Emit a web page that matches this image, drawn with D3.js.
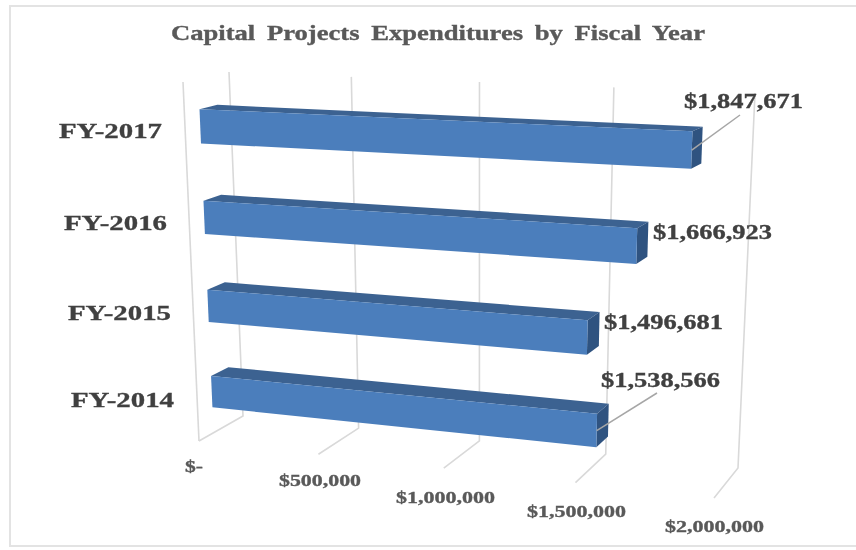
<!DOCTYPE html>
<html lang="en">
<head>
  <meta charset="UTF-8">
  <title>Capital Projects Expenditures by Fiscal Year</title>
  <style>
    html, body { margin: 0; padding: 0; background: #fff; }
    svg { display: block; filter: blur(0.45px); }
    text { font-family: "Liberation Serif", serif; font-weight: bold; stroke: currentColor; stroke-width: 0.35px; }
  </style>
</head>
<body>
<script src="https://d3js.org/d3.v7.min.js"></script>
<script>
  const title = "Capital Projects Expenditures by Fiscal Year";
  const categories = ["FY-2017", "FY-2016", "FY-2015", "FY-2014"];
  const values = [1847671, 1666923, 1496681, 1538566];
  const tickValues = [0, 500000, 1000000, 1500000, 2000000];
  const tickLabels = ["$-", "$500,000", "$1,000,000", "$1,500,000", "$2,000,000"];

  const width = 856, height = 550;

  const svg = d3.select("body").append("svg")
          .attr("width", width)
          .attr("height", height);

  // homography from the unit square onto a quad [bl, br, tr, tl]
  function quadMap(q) {
    const [p0, p1, p2, p3] = q;
    const dx1 = p1[0] - p2[0], dx2 = p3[0] - p2[0], sx = p0[0] - p1[0] + p2[0] - p3[0];
    const dy1 = p1[1] - p2[1], dy2 = p3[1] - p2[1], sy = p0[1] - p1[1] + p2[1] - p3[1];
    const den = dx1 * dy2 - dx2 * dy1;
    const g = (sx * dy2 - dx2 * sy) / den;
    const h = (dx1 * sy - sx * dy1) / den;
    const a = p1[0] - p0[0] + g * p1[0], b = p3[0] - p0[0] + h * p3[0], c = p0[0];
    const d = p1[1] - p0[1] + g * p1[1], e = p3[1] - p0[1] + h * p3[1], f = p0[1];
    return (u, v) => {
      const w = g * u + h * v + 1;
      return [(a * u + b * v + c) / w, (d * u + e * v + f) / w];
    };
  }

  // the chart box as seen in the picture: front plane and back wall
  const frontPlane = quadMap([[199, 441], [714, 498], [731, 103], [183, 82]]);
  const backPlane = quadMap([[243, 416], [738, 468], [755, 93], [229, 72]]);

  const xScale = d3.scaleLinear().domain([0, 2000000]).range([0, 1]);
  const yScale = d3.scaleBand().domain(categories).range([0.997, -0.003]).paddingInner(0.63).paddingOuter(0.315);
  const zScale = d3.scaleLinear().domain([0, 1]).range([0.33, 0.72]);

  function project(value, level, depth) {
    const u = xScale(value);
    const a = frontPlane(u, level), b = backPlane(u, level);
    return [a[0] + (b[0] - a[0]) * depth, a[1] + (b[1] - a[1]) * depth];
  }

  const line = d3.line();
  const frameColor = "#e3e3e3", gridColor = "#d9d9d9";

  // outer frame, open on the right
  svg.append("path")
          .attr("d", line([[width, 6], [10, 6], [10, 546], [width, 546]]))
          .attr("fill", "none").attr("stroke", frameColor).attr("stroke-width", 2);

  // gridlines: up the back wall, then forward along the floor
  svg.append("g").selectAll("path").data(tickValues).join("path")
          .attr("d", d => line([project(d, 1, 1), project(d, 0, 1), project(d, 0, 0)]))
          .attr("fill", "none").attr("stroke", gridColor).attr("stroke-width", 1.6);

  // left side wall edge
  svg.append("path")
          .attr("d", line([project(0, 1, 0), project(0, 0, 0)]))
          .attr("fill", "none").attr("stroke", gridColor).attr("stroke-width", 1.6);

  const bars = svg.append("g").selectAll("g").data(categories).join("g");

  const yTop = cat => yScale(cat) + yScale.bandwidth();
  const yBot = cat => yScale(cat);

  bars.append("path") // top
          .attr("d", (c, i) => line([
            project(0, yTop(c), zScale(0)), project(values[i], yTop(c), zScale(0)),
            project(values[i], yTop(c), zScale(1)), project(0, yTop(c), zScale(1))]) + "Z")
          .attr("fill", "#3c6291");
  bars.append("path") // end
          .attr("d", (c, i) => line([
            project(values[i], yTop(c), zScale(0)), project(values[i], yBot(c), zScale(0)),
            project(values[i], yBot(c), zScale(1)), project(values[i], yTop(c), zScale(1))]) + "Z")
          .attr("fill", "#2f5380");
  bars.append("path") // front
          .attr("d", (c, i) => line([
            project(0, yTop(c), zScale(0)), project(values[i], yTop(c), zScale(0)),
            project(values[i], yBot(c), zScale(0)), project(0, yBot(c), zScale(0))]) + "Z")
          .attr("fill", "#4b7ebc");

  // title
  svg.append("text").attr("x", 438).attr("y", 40)
          .attr("text-anchor", "middle").attr("font-size", 21).attr("fill", "#595959").attr("color", "#595959")
          .attr("word-spacing", 4)
          .attr("textLength", 534).attr("lengthAdjust", "spacingAndGlyphs")
          .text(title);

  // category labels
  const catLabelPos = [[59, 138], [64, 230], [68, 320], [71, 407]];
  svg.append("g").selectAll("text").data(categories).join("text")
          .attr("x", (d, i) => catLabelPos[i][0]).attr("y", (d, i) => catLabelPos[i][1])
          .attr("font-size", 22).attr("fill", "#404040").attr("color", "#404040")
          .attr("textLength", 103).attr("lengthAdjust", "spacingAndGlyphs")
          .text(d => d);

  // value tick labels
  const tickLabelPos = [[185, 472], [279, 486], [396, 503], [527, 517], [665, 532]];
  const tickLabelW = [18, 82, 99, 99, 99];
  svg.append("g").selectAll("text").data(tickLabels).join("text")
          .attr("x", (d, i) => tickLabelPos[i][0]).attr("y", (d, i) => tickLabelPos[i][1])
          .attr("font-size", 17).attr("fill", "#595959").attr("color", "#595959")
          .attr("textLength", (d, i) => tickLabelW[i]).attr("lengthAdjust", "spacingAndGlyphs")
          .text(d => d);

  // data labels
  const fmt = d3.format("$,");
  const dataLabelPos = [[684, 108], [653, 239], [604, 329], [601, 387]];
  svg.append("g").selectAll("text").data(values).join("text")
          .attr("x", (d, i) => dataLabelPos[i][0]).attr("y", (d, i) => dataLabelPos[i][1])
          .attr("font-size", 21).attr("fill", "#404040").attr("color", "#404040")
          .attr("textLength", 119).attr("lengthAdjust", "spacingAndGlyphs")
          .text(d => fmt(d));

  // leader lines for the two labels sat above their bars
  const leaders = [{ i: 0, to: [740, 115] }, { i: 3, to: [657, 393] }];
  svg.append("g").selectAll("line").data(leaders).join("line")
          .each(function (d) {
            const c = categories[d.i];
            const p = project(values[d.i], (yTop(c) + yBot(c)) / 2, zScale(0));
            d3.select(this).attr("x1", p[0]).attr("y1", p[1]).attr("x2", d.to[0]).attr("y2", d.to[1]);
          })
          .attr("stroke", "#a6a6a6").attr("stroke-width", 1.5);
</script>
</body>
</html>
